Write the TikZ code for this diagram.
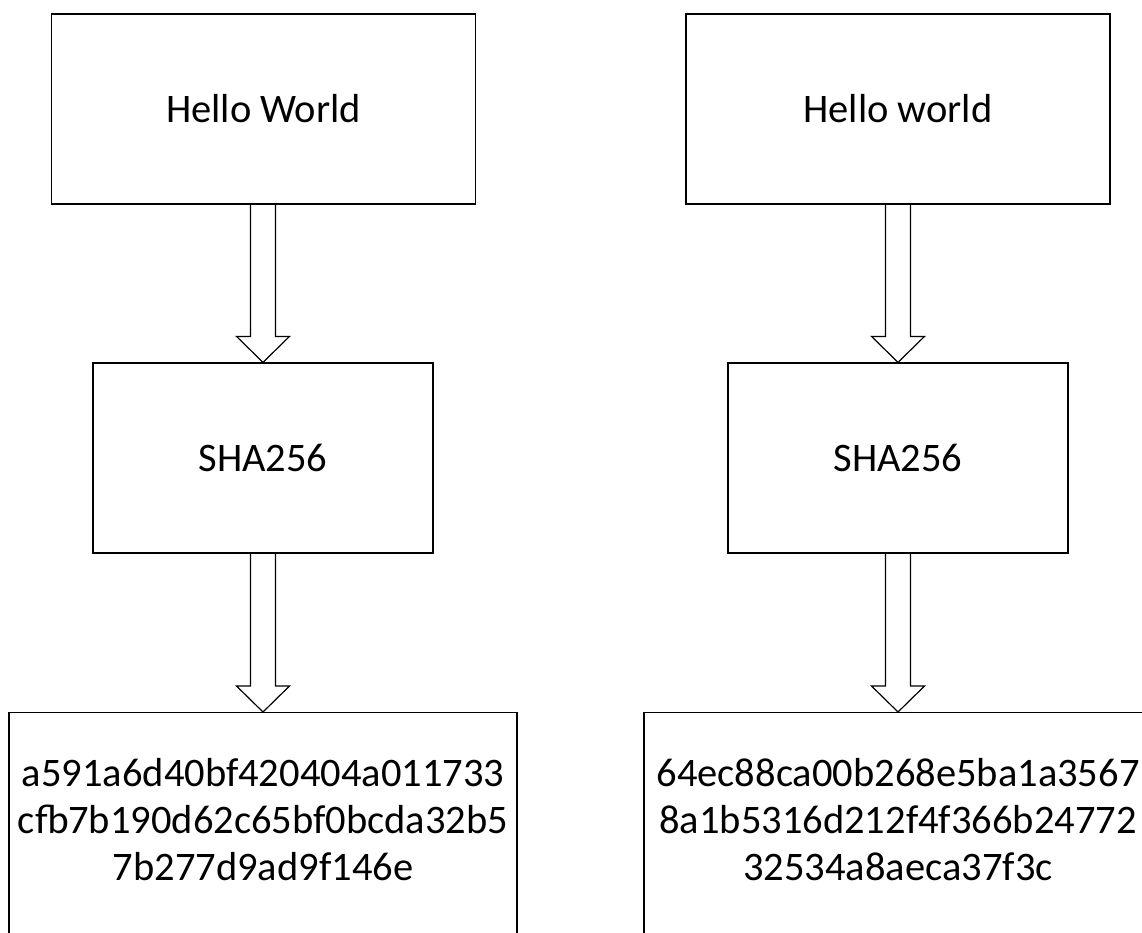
\documentclass[tikz,border=0pt]{standalone}
\usepackage{fontspec}
\setmainfont{Carlito}
\usetikzlibrary{calc}

\newcommand{\hollowarrow}[2]{%
  \draw[hollow] ($(#2.north |- #1.south)+(-12.5,0)$) -- ($(#2.north)+(-12.5,-26)$)
    -- ($(#2.north)+(-26.5,-26)$) -- (#2.north) -- ($(#2.north)+(26.5,-26)$)
    -- ($(#2.north)+(12.5,-26)$) -- ($(#2.north |- #1.south)+(12.5,0)$);}

\begin{document}
\begin{tikzpicture}[x=1pt, y=-1pt,
    stage/.style ={rectangle, draw, line width=1.2pt, inner sep=0pt,
                   font=\fontsize{40.5}{47}\selectfont},
    hashtext/.style ={align=center, font=\fontsize{40.5}{47}\selectfont},
    hollow/.style ={line width=1.2pt, line join=miter}]
   \useasboundingbox (0,0) rectangle (1142,933);
   \clip (0,0) rectangle (1142,933);

   \node[stage, minimum width=424pt, minimum height=190pt] (A) at (263.5,109) {Hello World};
   \node[stage, minimum width=340pt, minimum height=190pt] (B) at (263,458)  {SHA256};
   \node[stage, minimum width=508pt, minimum height=300pt, anchor=north] (C) at (263,712) {};
   \node[hashtext] (D) at (263,820) {a591a6d40bf420404a011733\\cfb7b190d62c65bf0bcda32b5\\7b277d9ad9f146e};

   \node[stage, minimum width=424pt, minimum height=190pt] (E) at (898,109) {Hello world};
   \node[stage, minimum width=340pt, minimum height=190pt] (F) at (898,458) {SHA256};
   \node[stage, minimum width=508pt, minimum height=300pt, anchor=north] (G) at (898,712) {};
   \node[hashtext] (H) at (898,820) {64ec88ca00b268e5ba1a3567\\8a1b5316d212f4f366b24772\\32534a8aeca37f3c};

   \hollowarrow{A}{B}
   \hollowarrow{B}{C}
   \hollowarrow{E}{F}
   \hollowarrow{F}{G}
 \end{tikzpicture}
\end{document}
